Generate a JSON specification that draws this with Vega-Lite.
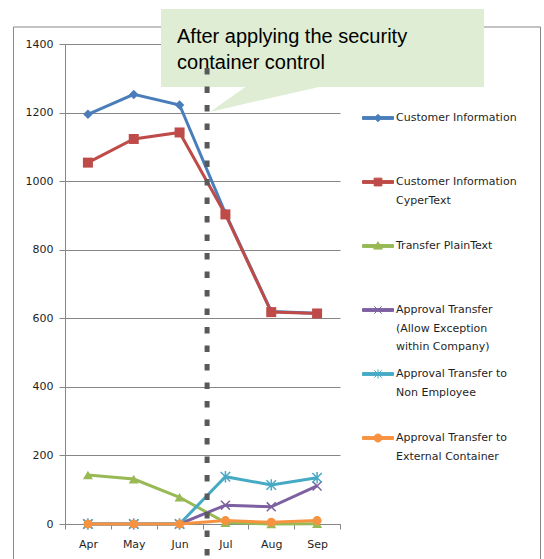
{
  "$schema": "https://vega.github.io/schema/vega-lite/v6.json",
  "autosize": "none",
  "width": 275,
  "height": 480,
  "padding": {"left": 65, "top": 44, "right": 204, "bottom": 35},
  "background": "white",
  "config": {
    "view": {"stroke": null},
    "axis": {"domainColor": "#868686", "tickColor": "#868686", "gridColor": "#868686", "labelFont": "DejaVu Sans", "labelFontSize": 11, "labelColor": "#1f1f1f", "titleFontSize": 0}
  },
  "datasets": {
    "series": [
      {"month": "Apr", "series": "Customer Information", "value": 1195},
      {"month": "May", "series": "Customer Information", "value": 1253},
      {"month": "Jun", "series": "Customer Information", "value": 1222},
      {"month": "Jul", "series": "Customer Information", "value": 906},
      {"month": "Aug", "series": "Customer Information", "value": 620},
      {"month": "Sep", "series": "Customer Information", "value": 615},
      {"month": "Apr", "series": "Customer Information CyperText", "value": 1054},
      {"month": "May", "series": "Customer Information CyperText", "value": 1123},
      {"month": "Jun", "series": "Customer Information CyperText", "value": 1142},
      {"month": "Jul", "series": "Customer Information CyperText", "value": 903},
      {"month": "Aug", "series": "Customer Information CyperText", "value": 618},
      {"month": "Sep", "series": "Customer Information CyperText", "value": 614},
      {"month": "Apr", "series": "Transfer PlainText", "value": 143},
      {"month": "May", "series": "Transfer PlainText", "value": 131},
      {"month": "Jun", "series": "Transfer PlainText", "value": 78},
      {"month": "Jul", "series": "Transfer PlainText", "value": 4},
      {"month": "Aug", "series": "Transfer PlainText", "value": 0},
      {"month": "Sep", "series": "Transfer PlainText", "value": 1},
      {"month": "Apr", "series": "Approval Transfer (Allow Exception within Company)", "value": 0},
      {"month": "May", "series": "Approval Transfer (Allow Exception within Company)", "value": 0},
      {"month": "Jun", "series": "Approval Transfer (Allow Exception within Company)", "value": 0},
      {"month": "Jul", "series": "Approval Transfer (Allow Exception within Company)", "value": 55},
      {"month": "Aug", "series": "Approval Transfer (Allow Exception within Company)", "value": 50},
      {"month": "Sep", "series": "Approval Transfer (Allow Exception within Company)", "value": 111},
      {"month": "Apr", "series": "Approval Transfer to Non Employee", "value": 0},
      {"month": "May", "series": "Approval Transfer to Non Employee", "value": 0},
      {"month": "Jun", "series": "Approval Transfer to Non Employee", "value": 0},
      {"month": "Jul", "series": "Approval Transfer to Non Employee", "value": 138},
      {"month": "Aug", "series": "Approval Transfer to Non Employee", "value": 114},
      {"month": "Sep", "series": "Approval Transfer to Non Employee", "value": 135},
      {"month": "Apr", "series": "Approval Transfer to External Container", "value": 0},
      {"month": "May", "series": "Approval Transfer to External Container", "value": 0},
      {"month": "Jun", "series": "Approval Transfer to External Container", "value": 0},
      {"month": "Jul", "series": "Approval Transfer to External Container", "value": 10},
      {"month": "Aug", "series": "Approval Transfer to External Container", "value": 5},
      {"month": "Sep", "series": "Approval Transfer to External Container", "value": 10}
    ]
  },
  "resolve": {"scale": {"x": "independent"}},
  "layer": [
    {
      "data": {"values": [{"ax": -1.124, "ax2": 10.375, "ay": 1449.6, "ay2": -110}]},
      "mark": {"type": "rect", "fillOpacity": 0, "stroke": "#888888", "strokeWidth": 1},
      "encoding": {
        "x": {"field": "ax", "type": "quantitative", "scale": {"domain": [0, 6], "nice": false, "zero": false}, "axis": null},
        "x2": {"field": "ax2"},
        "y": {"field": "ay", "type": "quantitative", "title": null, "scale": {"domain": [0, 1400], "nice": false}},
        "y2": {"field": "ay2"}
      }
    },
    {
      "data": {"name": "series"},
      "encoding": {
        "x": {"field": "month", "type": "nominal", "sort": ["Apr", "May", "Jun", "Jul", "Aug", "Sep"], "bandPosition": 0.5, "title": null,
          "scale": {"type": "band", "paddingInner": 0, "paddingOuter": 0},
          "axis": {"labelAngle": 0, "tickBand": "extent", "tickSize": 5, "labelPadding": 9, "grid": false, "domainColor": "#868686"}},
        "y": {"field": "value", "type": "quantitative", "title": null, "scale": {"domain": [0, 1400], "nice": false},
          "axis": {"values": [0, 200, 400, 600, 800, 1000, 1200, 1400], "format": "d", "tickSize": 6, "labelPadding": 6, "grid": true}},
        "color": {"field": "series", "type": "nominal",
          "scale": {"domain": ["Customer Information", "Customer Information CyperText", "Transfer PlainText", "Approval Transfer (Allow Exception within Company)", "Approval Transfer to Non Employee", "Approval Transfer to External Container"],
            "range": ["#4A7EBB", "#BE4B48", "#98B954", "#7D60A0", "#46AAC5", "#F69240"]},
          "legend": {
            "title": null, "orient": "none", "legendX": 297, "legendY": 58, "padding": 0,
            "symbolSize": 961, "symbolStrokeWidth": 1, "gridAlign": "all", "rowPadding": 6, "labelOffset": 2,
            "labelFont": "DejaVu Sans", "labelFontSize": 11, "labelColor": "#1f1f1f", "labelLimit": 300, "labelBaseline": "top",
            "labelExpr": "datum.label == 'Customer Information CyperText' ? ['Customer Information', 'CyperText'] : datum.label == 'Approval Transfer (Allow Exception within Company)' ? ['Approval Transfer', '(Allow Exception', 'within Company)'] : datum.label == 'Approval Transfer to Non Employee' ? ['Approval Transfer to', 'Non Employee'] : datum.label == 'Approval Transfer to External Container' ? ['Approval Transfer to', 'External Container'] : datum.label",
            "encode": {
              "symbols": {"update": {
                "shape": {"signal": "datum.value == 'Customer Information' ? 'M-1,-0.09H1V0.09H-1ZM-0.24,0L0,-0.24L0.24,0L0,0.24Z' : datum.value == 'Customer Information CyperText' ? 'M-1,-0.09H1V0.09H-1ZM-0.25,-0.25H0.25V0.25H-0.25Z' : datum.value == 'Transfer PlainText' ? 'M-1,-0.09H1V0.09H-1ZM-0.28,0.2L0,-0.27L0.28,0.2Z' : datum.value == 'Approval Transfer (Allow Exception within Company)' ? 'M-1,-0.09H1V0.09H-1ZM-0.24,-0.24L0.24,0.24M-0.24,0.24L0.24,-0.24' : datum.value == 'Approval Transfer to Non Employee' ? 'M-1,-0.09H1V0.09H-1ZM-0.24,-0.24L0.24,0.24M-0.24,0.24L0.24,-0.24M0,-0.3L0,0.3' : 'M-1,-0.09H1V0.09H-1ZM-0.26,0A0.26,0.26,0,1,1,0.26,0A0.26,0.26,0,1,1,-0.26,0Z'"},
                "fill": {"scale": "color", "field": "value"},
                "stroke": {"scale": "color", "field": "value"},
                "strokeWidth": {"value": 1},
                "opacity": {"value": 1},
                "size": {"value": 961}
              }},
              "labels": {"update": {"dy": {"value": -6}, "lineHeight": {"value": 18.5}}}
            }
          }
        }
      },
      "layer": [
        {"mark": {"type": "line", "strokeWidth": 3}},
        {"transform": [{"filter": "datum.series == 'Customer Information'"}], "mark": {"type": "point", "shape": "diamond", "filled": true, "size": 90, "opacity": 1}},
        {"transform": [{"filter": "datum.series == 'Customer Information CyperText'"}], "mark": {"type": "point", "shape": "square", "filled": true, "size": 100, "opacity": 1}},
        {"transform": [{"filter": "datum.series == 'Transfer PlainText'"}], "mark": {"type": "point", "shape": "triangle-up", "filled": true, "size": 100, "opacity": 1}},
        {"transform": [{"filter": "datum.series == 'Approval Transfer (Allow Exception within Company)'"}], "mark": {"type": "point", "shape": "M-1,-1L1,1M-1,1L1,-1", "filled": false, "size": 80, "strokeWidth": 1.5, "opacity": 1}},
        {"transform": [{"filter": "datum.series == 'Approval Transfer to Non Employee'"}], "mark": {"type": "point", "shape": "M-1,-1L1,1M-1,1L1,-1M0,-1.2L0,1.2", "filled": false, "size": 90, "strokeWidth": 1.5, "opacity": 1}},
        {"transform": [{"filter": "datum.series == 'Approval Transfer to External Container'"}], "mark": {"type": "point", "shape": "circle", "filled": true, "size": 80, "opacity": 1}}
      ]
    },
    {
      "data": {"values": [{"ax": 2.095, "ax2": 9.142, "ay": 1502, "ay2": 1274.6}]},
      "mark": {"type": "rect", "fill": "#deedd3"},
      "encoding": {
        "x": {"field": "ax", "type": "quantitative", "scale": {"domain": [0, 6], "nice": false, "zero": false}, "axis": null},
        "x2": {"field": "ax2"},
        "y": {"field": "ay", "type": "quantitative", "title": null, "scale": {"domain": [0, 1400], "nice": false}},
        "y2": {"field": "ay2"}
      }
    },
    {
      "data": {"values": [
        {"ax": 3.164, "ay": 1201.7, "ay2": 1201.7},
        {"ax": 3.949, "ay": 1276, "ay2": 1226.4},
        {"ax": 5.542, "ay": 1276, "ay2": 1274.6}
      ]},
      "mark": {"type": "area", "fill": "#deedd3", "opacity": 1},
      "encoding": {
        "x": {"field": "ax", "type": "quantitative", "scale": {"domain": [0, 6], "nice": false, "zero": false}, "axis": null},
        "y": {"field": "ay", "type": "quantitative", "title": null, "scale": {"domain": [0, 1400], "nice": false}},
        "y2": {"field": "ay2"}
      }
    },
    {
      "data": {"values": [
        {"ax": 2.444, "ay": 1403, "txt": "After applying the security"},
        {"ax": 2.444, "ay": 1327, "txt": "container control"}
      ]},
      "mark": {"type": "text", "font": "Liberation Sans", "fontSize": 20, "align": "left", "baseline": "alphabetic", "color": "#000000"},
      "encoding": {
        "x": {"field": "ax", "type": "quantitative", "scale": {"domain": [0, 6], "nice": false, "zero": false}, "axis": null},
        "y": {"field": "ay", "type": "quantitative", "title": null, "scale": {"domain": [0, 1400], "nice": false}},
        "text": {"field": "txt"}
      }
    },
    {
      "data": {"values": [{"ax": 3.1, "ay": 1330, "ay2": -110}]},
      "mark": {"type": "rule", "color": "#595959", "strokeWidth": 5, "strokeDash": [6.5, 12]},
      "encoding": {
        "x": {"field": "ax", "type": "quantitative", "scale": {"domain": [0, 6], "nice": false, "zero": false}, "axis": null},
        "y": {"field": "ay", "type": "quantitative", "title": null, "scale": {"domain": [0, 1400], "nice": false}},
        "y2": {"field": "ay2"}
      }
    }
  ]
}
